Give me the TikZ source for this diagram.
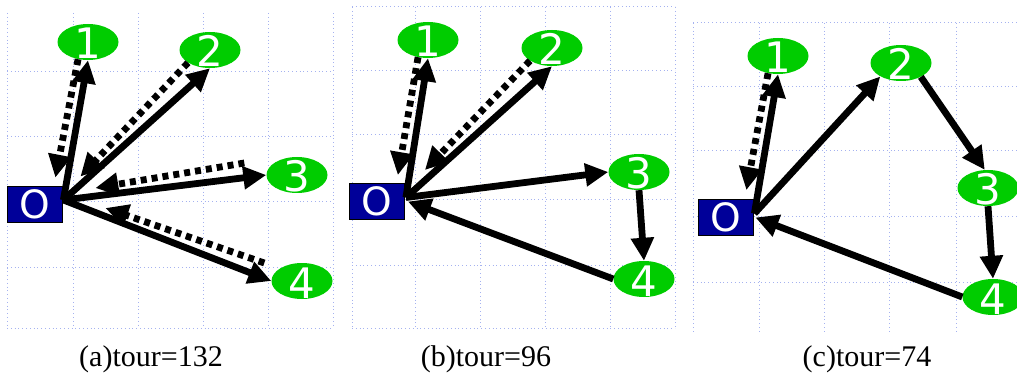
\documentclass[tikz,border=0pt]{standalone}
\usepackage{fontspec}
\setmainfont{Liberation Serif}
\newfontfamily\labelfont{DejaVu Sans}
\usetikzlibrary{arrows.meta,shapes.geometric}

\definecolor{citygreen}{RGB}{0,204,0}
\definecolor{depotblue}{RGB}{0,0,153}
\definecolor{gridblue}{RGB}{165,178,240}

\tikzset{
  gridline/.style={draw=gridblue, line width=1pt, dash pattern=on 1pt off 2.8pt},
  city/.style={ellipse, fill=citygreen, minimum width=61pt, minimum height=36pt,
    inner xsep=0pt, inner ysep=-12pt, text height=34pt, text depth=0pt,
    text=white, font=\labelfont\fontsize{42}{42}\selectfont},
  depot/.style={rectangle, fill=depotblue, draw=black, line width=0.8pt,
    minimum width=55pt, minimum height=36pt, inner sep=0pt,
    text=white, font=\labelfont\fontsize{39}{39}\selectfont},
  leg/.style={draw=black, line width=6.8pt, -{Triangle[length=23pt,width=22pt]}},
  ret/.style={leg, dash pattern=on 6pt off 5pt},
  caption/.style={anchor=base, font=\fontsize{30}{30}\selectfont}
}

\begin{document}
\begin{tikzpicture}[x=1pt,y=-1pt]
\useasboundingbox (0,0) rectangle (1017,374);

% ---------- background grids ----------
\foreach \gx in {7,73,138,203,268,333} \draw[gridline] (\gx,13) -- (\gx,328);
\foreach \gy in {72,137,202,267,328} \draw[gridline] (7,\gy) -- (333,\gy);

\foreach \gx in {352,415,480,545,610,675} \draw[gridline] (\gx,7) -- (\gx,328);
\foreach \gy in {7,71,135,200,265,328} \draw[gridline] (352,\gy) -- (675,\gy);

\foreach \gx in {693,759,824,889,956} \draw[gridline] (\gx,23) -- (\gx,332);
\foreach \gy in {23,87,151,217,282} \draw[gridline] (693,\gy) -- (1017,\gy);

% ---------- (a) star tour ----------
\node[depot] (oA) at (34.5,204) {O};
\node[city] (a1) at (88,42) {1};
\node[city] (a2) at (210,50) {2};
\node[city] (a3) at (297,175) {3};
\node[city] (a4) at (302,281) {4};
\coordinate (hA) at ([shift={(1,-4)}]oA.east);

\draw[leg] (hA) -- (a1.south);
\draw[ret] (a1.240) -- ([shift={(-7,-8)}]oA.north east);
\draw[leg] (hA) -- (a2.south);
\draw[ret] (a2.210) -- ([shift={(18,-9)}]oA.north east);
\draw[leg] (hA) -- (a3.west);
\draw[ret] ([shift={(-22,-12)}]a3.west) -- ([shift={(33,-16)}]oA.east);
\draw[leg] (hA) -- (a4.west);
\draw[ret] ([shift={(-7,-18)}]a4.west) -- ([shift={(43,4)}]oA.east);

\node[caption] (capA) at (151,366) {(a)tour=132};

% ---------- (b) cities 3 and 4 merged ----------
\node[depot] (oB) at (377,201.5) {O};
\node[city] (b1) at (428,40) {1};
\node[city] (b2) at (552,48) {2};
\node[city] (b3) at (639,172) {3};
\node[city] (b4) at (644,279) {4};
\coordinate (hB) at ([shift={(1,-4)}]oB.east);

\draw[leg] (hB) -- (b1.south);
\draw[ret] (b1.240) -- ([shift={(-7,-8)}]oB.north east);
\draw[leg] (hB) -- (b2.south);
\draw[ret] (b2.210) -- ([shift={(20,-13)}]oB.north east);
\draw[leg] (hB) -- (b3.west);
\draw[leg] (b3.south) -- (b4.north);
\draw[leg] (b4.west) -- ([xshift=3pt]oB.east);

\node[caption] (capB) at (486,366) {(b)tour=96};

% ---------- (c) cities 2, 3 and 4 merged ----------
\node[depot] (oC) at (725.5,217.5) {O};
\node[city] (c1) at (778,56) {1};
\node[city] (c2) at (901,63) {2};
\node[city] (c3) at (988,188) {3};
\node[city] (c4) at (993,297) {4};
\coordinate (hC) at ([shift={(1,-4)}]oC.east);

\draw[leg] (hC) -- (c1.south);
\draw[ret] (c1.240) -- ([shift={(-7,-9)}]oC.north east);
\draw[leg] (hC) -- (c2.213);
\draw[leg] (c2.-35) -- (c3.100);
\draw[leg] (c3.south) -- (c4.north);
\draw[leg] (c4.west) -- ([xshift=2pt]oC.east);

\node[caption] (capC) at (867,366) {(c)tour=74};
\end{tikzpicture}
\end{document}
